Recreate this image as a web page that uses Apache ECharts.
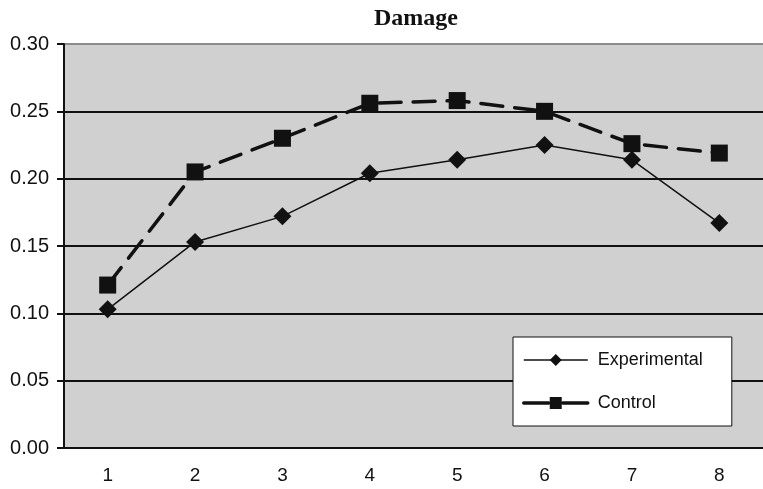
<!DOCTYPE html>
<html>
<head>
<meta charset="utf-8">
<script src="https://cdn.jsdelivr.net/npm/echarts@6/dist/echarts.min.js"></script>
<style>
  html, body { margin: 0; padding: 0; background: #fff; }
  #chart { width: 763px; height: 489px; }
</style>
</head>
<body>
<div id="chart"></div>
<script>
// Damage scores per session for the two groups
const categories = ['1', '2', '3', '4', '5', '6', '7', '8'];
const experimental = [0.103, 0.153, 0.172, 0.204, 0.214, 0.225, 0.214, 0.167];
const control = [0.121, 0.205, 0.230, 0.256, 0.258, 0.250, 0.226, 0.219];
const yTicks = { min: 0, max: 0.30, step: 0.05 };

const ink = '#111';
const chart = echarts.init(document.getElementById('chart'));

chart.setOption({
  animation: false,
  backgroundColor: '#fff',
  title: {
    text: 'Damage',
    left: 411,
    textAlign: 'center',
    top: 2,
    textStyle: {
      fontFamily: '"Liberation Serif", "Times New Roman", serif',
      fontWeight: 'bold',
      fontSize: 24,
      color: ink
    }
  },
  grid: {
    left: 64,
    top: 44,
    width: 704,
    bottom: 41,
    show: true,
    backgroundColor: '#cfd0cf',
    borderWidth: 0
  },
  legend: {
    orient: 'vertical',
    left: 513,
    top: 337,
    padding: [14, 29, 14, 9],
    itemGap: 25,
    itemWidth: 64,
    itemHeight: 15,
    backgroundColor: '#fff',
    borderColor: ink,
    borderWidth: 1,
    borderRadius: 0,
    textStyle: {
      fontFamily: '"Liberation Sans", Arial, sans-serif',
      fontSize: 18,
      color: ink,
      padding: [0, 0, 0, 5]
    },
    data: [
      { name: 'Experimental', lineStyle: { width: 1.5, type: 'solid' } },
      { name: 'Control', lineStyle: { width: 3.5, type: [25, 14, 25], cap: 'round' } }
    ]
  },
  xAxis: {
    type: 'category',
    data: categories,
    boundaryGap: true,
    axisLine: { lineStyle: { color: ink, width: 2 } },
    axisTick: { length: 7, lineStyle: { color: ink, width: 2 } },
    axisLabel: {
      margin: 18,
      fontFamily: '"Liberation Sans", Arial, sans-serif',
      fontSize: 19,
      color: ink
    },
    splitLine: { show: false }
  },
  yAxis: {
    type: 'value',
    min: yTicks.min,
    max: yTicks.max,
    interval: yTicks.step,
    axisLine: { show: true, lineStyle: { color: ink, width: 2 } },
    axisTick: { show: true, length: 7, lineStyle: { color: ink, width: 2 } },
    axisLabel: {
      margin: 15,
      fontFamily: '"Liberation Sans", Arial, sans-serif',
      fontSize: 20,
      color: ink,
      formatter: v => v.toFixed(2)
    },
    splitLine: {
      show: true,
      lineStyle: {
        color: [ink, ink, ink, ink, ink, ink, '#8a8a8a'],
        width: 2
      }
    }
  },
  series: [
    {
      name: 'Experimental',
      type: 'line',
      data: experimental,
      symbol: 'diamond',
      symbolSize: 18,
      itemStyle: { color: ink },
      lineStyle: { color: ink, width: 1.5 },
      z: 3
    },
    {
      name: 'Control',
      type: 'line',
      data: control,
      symbol: 'rect',
      symbolSize: 17,
      itemStyle: { color: ink },
      lineStyle: { color: ink, width: 3.5, type: [22, 12], cap: 'round' },
      z: 4
    }
  ]
});
</script>
</body>
</html>
